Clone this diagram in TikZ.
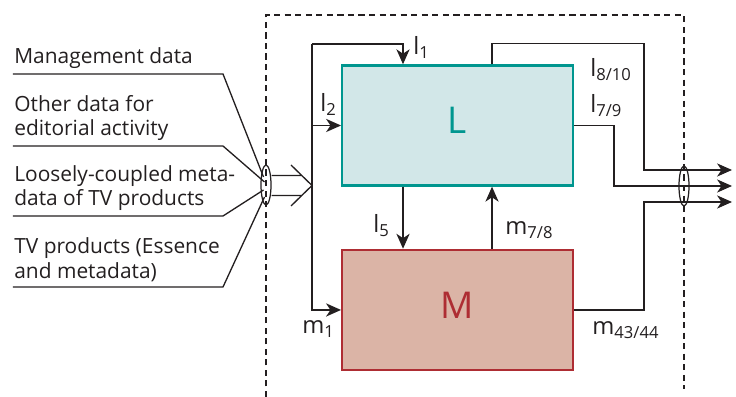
\documentclass[tikz,border=0pt]{standalone}
\usepackage{fontspec}
\setmainfont{Open Sans}
\usetikzlibrary{positioning, shapes.geometric, arrows.meta, calc}
\definecolor{blkTeal}{HTML}{00968F}
\definecolor{blkTealSoft}{HTML}{D2E7E8}
\definecolor{blkRed}{HTML}{AE2D33}
\definecolor{blkRedSoft}{HTML}{DBB4A6}
\definecolor{lineDark}{HTML}{231F20}

\begin{document}
\begin{tikzpicture}[
    fcBlockL/.style={draw=blkTeal, line width=1.4pt, rectangle, fill=blkTealSoft, text=blkTeal, minimum width=4.61cm, minimum height=2.40cm, text depth=0.2cm, font=\fontsize{21}{24}\selectfont},
    fcBlockM/.style={draw=blkRed, line width=1.4pt, rectangle, fill=blkRedSoft, text=blkRed, minimum width=4.61cm, minimum height=2.40cm, text depth=0.18cm, font=\fontsize{21}{24}\selectfont},
    fcFlow/.style={draw=lineDark, line width=0.75pt, -{Stealth[length=8.5pt, width=7.5pt, inset=2.5pt]}},
    fcLine/.style={draw=lineDark, line width=0.75pt},
    fcBound/.style={draw=lineDark, line width=0.6pt, dash pattern=on 3.5pt off 2.5pt},
    fcBundle/.style={draw=lineDark, line width=0.7pt, ellipse, inner sep=0pt, minimum width=0.2cm, minimum height=0.8cm},
    fcSource/.style={anchor=south west, align=left, inner xsep=0.02cm, inner ysep=0.1cm, text=lineDark, font=\fontsize{11.9}{13.9}\selectfont},
    fcTag/.style={anchor=base west, inner sep=0pt, text=lineDark, font=\fontsize{13.5}{16}\selectfont},
]
\useasboundingbox (0,0) rectangle (14.72,7.94);
\draw[fcBound] (5.32,0) |- (13.68,7.64) -- (13.68,0.16);
\node[fcBlockL] (blkL) at (9.15,5.43) {L};
\node[fcBlockM, below=1.24cm of blkL] (blkM) {M};
\node[fcBundle] (bundleIn) at (5.32,4.24) {};
\node[fcBundle] (bundleOut) at (13.68,4.22) {};
\node[fcSource] (srcMgmt) at (0.26,6.46) {Management data};
\node[fcSource] (srcOther) at (0.26,5.02) {Other data for\\editorial activity};
\node[fcSource] (srcLoose) at (0.26,3.62) {Loosely-coupled meta-\\data of TV products};
\node[fcSource] (srcTv) at (0.26,2.20) {TV products (Essence\\and metadata)};
\coordinate (feedTop) at (6.24,7.06);
\coordinate (outA) at (14.64,4.54);
\coordinate (outB) at (14.64,4.22);
\coordinate (outC) at (14.64,3.90);
\draw[fcLine] (srcMgmt.south west) -- ++(4.20,0) -- ($(bundleIn.center)+(-0.05,0.16)$);
\draw[fcLine] (srcOther.south west) -- ++(4.20,0) -- ($(bundleIn.center)+(-0.03,0.06)$);
\draw[fcLine] (srcLoose.south west) -- ++(4.20,0) -- ($(bundleIn.center)+(-0.05,-0.10)$);
\draw[fcLine] (srcTv.south west) -- ++(4.20,0) -- ($(bundleIn.center)+(-0.03,-0.24)$);
\draw[fcLine] (bundleIn.east |- 0,4.43) -- (6.03,4.43) (bundleIn.east |- 0,4.03) -- (6.03,4.03)
    (5.82,4.64) -- (feedTop |- 0,4.23) -- (5.82,3.82);
\draw[fcFlow] (feedTop) -| ($(blkL.north west)+(1.24,0)$);
\draw[fcFlow] (feedTop) |- (blkM.west);
\draw[fcFlow] (feedTop |- blkL.west) -- (blkL.west);
\draw[fcFlow] ($(blkL.south west)+(1.24,0)$) -- ($(blkM.north west)+(1.24,0)$);
\draw[fcFlow] ($(blkM.north west)+(3.02,0)$) -- ($(blkL.south west)+(3.02,0)$);
\draw[fcFlow] ($(blkL.north west)+(3.02,0)$) |- ++(3.04,0.42) |- (outA);
\draw[fcFlow] (blkL.east) -- ++(0.80,0) |- (outB);
\draw[fcFlow] (blkM.east) -- ++(1.40,0) |- (outC);
\node[fcTag] (tagL1) at (8.26,6.84) {l\textsubscript{1}};
\node[fcTag] (tagL2) at (6.40,5.70) {l\textsubscript{2}};
\node[fcTag] (tagL810) at (11.80,6.40) {l\textsubscript{8/10}};
\node[fcTag] (tagL79) at (11.80,5.68) {l\textsubscript{7/9}};
\node[fcTag] (tagL5) at (7.46,3.28) {l\textsubscript{5}};
\node[fcTag] (tagM78) at (10.10,3.24) {m\textsubscript{7/8}};
\node[fcTag] (tagM1) at (6.04,1.26) {m\textsubscript{1}};
\node[fcTag] (tagM4344) at (11.84,1.24) {m\textsubscript{43/44}};
\end{tikzpicture}
\end{document}
